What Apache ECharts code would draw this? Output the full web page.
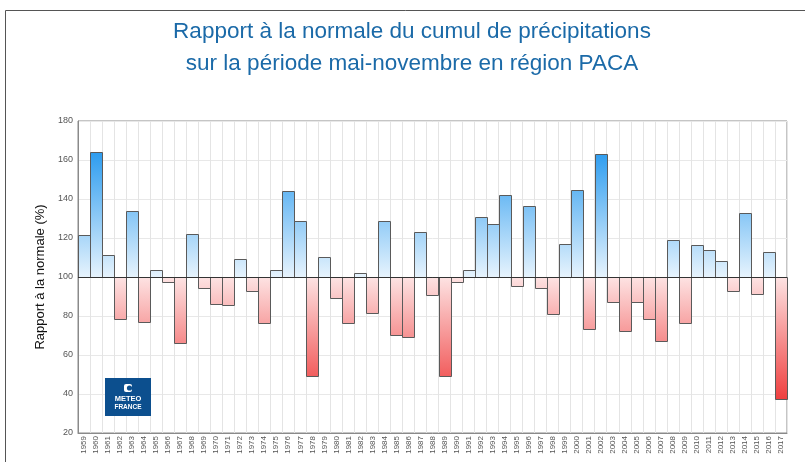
<!DOCTYPE html>
<html>
<head>
<meta charset="utf-8">
<script src="https://cdn.jsdelivr.net/npm/echarts@6/dist/echarts.min.js"></script>
<style>
html, body { margin: 0; padding: 0; background: #fff; }
#main { width: 805px; height: 462px; }
</style>
</head>
<body>
<div id="main"></div>
<script>
// années (catégories de l'axe X)
var years = ['1959','1960','1961','1962','1963','1964','1965','1966','1967','1968',
    '1969','1970','1971','1972','1973','1974','1975','1976','1977','1978',
    '1979','1980','1981','1982','1983','1984','1985','1986','1987','1988',
    '1989','1990','1991','1992','1993','1994','1995','1996','1997','1998',
    '1999','2000','2001','2002','2003','2004','2005','2006','2007','2008',
    '2009','2010','2011','2012','2013','2014','2015','2016','2017'];

// rapport à la normale (%)
var ratios = [121.5, 164.3, 111.3, 78.3, 133.8, 76.9, 103.8, 97.4, 66.0, 122.2,
    94.2, 86.2, 85.6, 109.2, 92.6, 76.2, 103.8, 143.9, 128.9, 49.2,
    110.3, 89.2, 76.2, 101.9, 81.5, 128.7, 70.1, 69.2, 122.9, 90.9,
    49.2, 97.4, 103.8, 130.8, 127.4, 142.1, 95.2, 136.6, 94.4, 81.0,
    116.9, 144.6, 73.2, 163.1, 87.0, 72.3, 87.0, 78.5, 67.2, 118.8,
    76.4, 116.2, 113.7, 108.4, 92.8, 132.8, 91.5, 112.8, 37.4];

var normale = 100;
var yTicks = [20, 40, 60, 80, 100, 120, 140, 160, 180];

var myChart = echarts.init(document.getElementById('main'));

// dessin d'une barre depuis la normale (100) jusqu'à la valeur
function renderBar(params, api) {
    var idx = api.value(0);
    var v = api.value(1);
    var pTop = api.coord([idx, v]);
    var pBase = api.coord([idx, normale]);
    var w = api.size([1, 0])[0];
    var fill;
    if (v >= normale) {
        var yHi = api.coord([idx, 165])[1];
        fill = new echarts.graphic.LinearGradient(0, yHi, 0, pBase[1], [
            {offset: 0, color: '#2a9bef'},
            {offset: 1, color: '#e6f3fd'}
        ], true);
    } else {
        var yLo = api.coord([idx, 36])[1];
        fill = new echarts.graphic.LinearGradient(0, pBase[1], 0, yLo, [
            {offset: 0, color: '#fde3e3'},
            {offset: 1, color: '#ef3c3c'}
        ], true);
    }
    var y0 = Math.min(pTop[1], pBase[1]);
    var h = Math.abs(pTop[1] - pBase[1]);
    return {
        type: 'rect',
        shape: {x: Math.round(pTop[0] - w / 2) + 0.5, y: Math.round(y0) + 0.5, width: Math.round(w), height: Math.round(h)},
        style: {fill: fill, stroke: '#5a5a5a', lineWidth: 1}
    };
}

var barData = [];
for (var i = 0; i < ratios.length; i++) {
    barData.push([i, ratios[i]]);
}

myChart.setOption({
    animation: false,
    title: {
        text: 'Rapport à la normale du cumul de précipitations\nsur la période mai-novembre en région PACA',
        left: 407,
        textAlign: 'center',
        top: 11,
        textStyle: {
            fontFamily: 'Liberation Sans',
            fontSize: 22.5,
            fontWeight: 'normal',
            color: '#1b6aa8',
            lineHeight: 32
        }
    },
    grid: {
        left: 78, right: 18, top: 121, bottom: 29,
        show: true,
        borderColor: '#8a8a8a',
        borderWidth: 1
    },
    xAxis: {
        type: 'category',
        data: years,
        boundaryGap: true,
        axisLine: {lineStyle: {color: '#8a8a8a'}},
        axisTick: {show: false},
        splitLine: {show: true, interval: 0, lineStyle: {color: '#e4e4e4'}},
        axisLabel: {
            interval: 0,
            rotate: 90,
            fontSize: 8,
            color: '#555',
            margin: 3,
            fontFamily: 'Liberation Sans'
        }
    },
    yAxis: {
        type: 'value',
        min: 20,
        max: 180,
        interval: 20,
        name: 'Rapport à la normale (%)',
        nameLocation: 'middle',
        nameGap: 30,
        nameTextStyle: {fontSize: 13, color: '#111', fontFamily: 'Liberation Sans'},
        axisLine: {show: true, lineStyle: {color: '#8a8a8a'}},
        axisTick: {show: false},
        splitLine: {lineStyle: {color: '#e8e8e8'}},
        axisLabel: {
            fontSize: 9,
            color: '#555',
            margin: 5,
            fontFamily: 'Liberation Sans',
            customValues: yTicks
        }
    },
    series: [{
        type: 'custom',
        renderItem: renderBar,
        data: barData,
        encode: {x: 0, y: 1},
        z: 3,
        markLine: {
            silent: true,
            symbol: 'none',
            label: {show: false},
            lineStyle: {color: '#333', width: 1, type: 'solid'},
            data: [{yAxis: normale}]
        }
    }],
    graphic: [
        // cadre extérieur
        {type: 'rect', shape: {x: 5.5, y: 10.5, width: 830, height: 480}, style: {fill: 'none', stroke: '#555', lineWidth: 1}, z: 10},
        // logo Météo-France
        {type: 'rect', shape: {x: 105, y: 378, width: 46, height: 38}, style: {fill: '#0c4f8e'}, z: 10},
        {type: 'rect', shape: {x: 124, y: 384, width: 8, height: 8, r: 2}, style: {fill: '#fff'}, z: 11},
        {type: 'circle', shape: {cx: 129.5, cy: 388, r: 2.6}, style: {fill: '#0c4f8e'}, z: 12},
        {type: 'text', x: 128, y: 399, style: {text: 'METEO', fill: '#fff', font: 'bold 7.5px "Liberation Sans"', align: 'center', verticalAlign: 'middle'}, z: 11},
        {type: 'text', x: 128, y: 407, style: {text: 'FRANCE', fill: '#fff', font: 'bold 6.5px "Liberation Sans"', align: 'center', verticalAlign: 'middle'}, z: 11}
    ]
});
</script>
</body>
</html>
